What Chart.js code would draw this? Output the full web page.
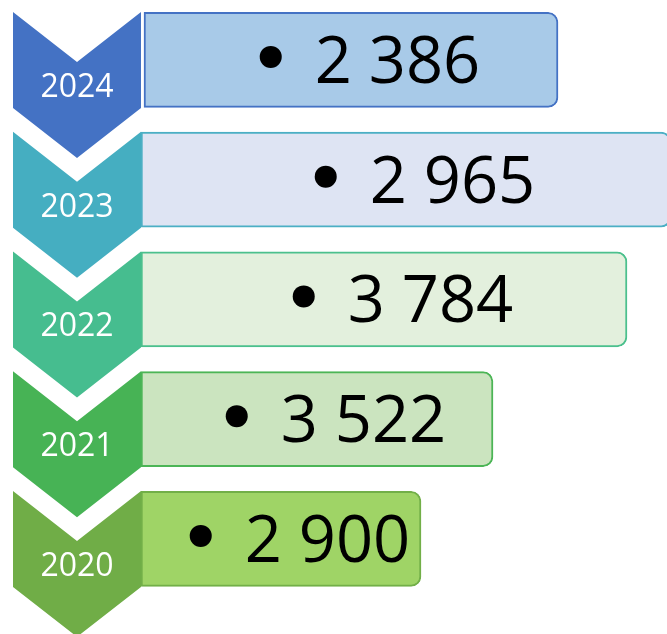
<!DOCTYPE html>
<html>
<head>
<meta charset="utf-8">
<script src="https://cdn.jsdelivr.net/npm/chart.js@4/dist/chart.umd.min.js"></script>
<style>
  html, body { margin: 0; padding: 0; background: #fff; }
  canvas { display: block; }
</style>
</head>
<body>
<canvas id="chart" width="667" height="634"></canvas>
<script>
// data
const years = ['2024', '2023', '2022', '2021', '2020'];
const counts = [2386, 2965, 3784, 3522, 2900];

// layout of the boxes (x units, the box widths do not follow the values in the source)
const boxStart = [144, 141, 141, 141, 141];
const boxEnd = [558, 671, 627, 493, 421];

const chevronColors = ['#4472C4', '#45AEC1', '#46BD8F', '#47B355', '#70AD47'];
const boxFills = ['#A8CAE8', '#DEE4F3', '#E3F0DD', '#CBE4BF', '#9FD466'];
const boxBorders = ['#4472C4', '#4BAFC4', '#4BC08D', '#4CB556', '#72AF48'];

const formatCount = v => String(v).replace(/\B(?=(\d{3})+(?!\d))/g, ' ');

// chevrons with the year, drawn on the left of each row
const chevronPlugin = {
  id: 'chevrons',
  beforeDatasetsDraw(chart) {
    const { ctx, scales: { x, y } } = chart;
    const left = x.getPixelForValue(13);
    const right = x.getPixelForValue(141);
    const mid = (left + right) / 2;
    ctx.save();
    years.forEach((year, i) => {
      const top = y.getPixelForValue(i) - 48;
      ctx.beginPath();
      ctx.moveTo(left, top);
      ctx.lineTo(mid, top + 50);
      ctx.lineTo(right, top);
      ctx.lineTo(right, top + 96);
      ctx.lineTo(mid, top + 146);
      ctx.lineTo(left, top + 96);
      ctx.closePath();
      ctx.fillStyle = chevronColors[i];
      ctx.fill();

      ctx.fillStyle = '#ffffff';
      ctx.font = '32px "Open Sans"';
      ctx.textAlign = 'center';
      ctx.textBaseline = 'alphabetic';
      ctx.fillText(year, mid, top + 85);
    });
    ctx.restore();
  }
};

// bullet + value inside each box
const valuePlugin = {
  id: 'values',
  afterDatasetsDraw(chart) {
    const { ctx } = chart;
    const meta = chart.getDatasetMeta(0);
    ctx.save();
    ctx.font = '65px "Open Sans"';
    ctx.textBaseline = 'alphabetic';
    ctx.textAlign = 'left';
    ctx.fillStyle = '#000000';
    meta.data.forEach((bar, i) => {
      const text = formatCount(counts[i]);
      const w = ctx.measureText(text).width;
      const groupW = 11 + 44 + w;
      const center = (bar.base + bar.x) / 2 + 19;
      const gx = center - groupW / 2;
      ctx.beginPath();
      ctx.arc(gx + 11, bar.y - 3, 11, 0, Math.PI * 2);
      ctx.fill();
      ctx.fillText(text, gx + 55, bar.y + 23);
    });
    ctx.restore();
  }
};

new Chart(document.getElementById('chart'), {
  type: 'bar',
  data: {
    labels: years,
    datasets: [{
      label: 'Počet',
      data: years.map((_, i) => [boxStart[i], boxEnd[i]]),
      backgroundColor: boxFills,
      borderColor: boxBorders,
      borderWidth: 2,
      borderSkipped: false,
      borderRadius: { topLeft: 0, bottomLeft: 0, topRight: 10, bottomRight: 10 },
      barThickness: 95
    }]
  },
  options: {
    indexAxis: 'y',
    responsive: false,
    animation: false,
    layout: { padding: { top: 0, bottom: 35.25, left: 0, right: 0 } },
    scales: {
      x: { type: 'linear', min: 0, max: 667, display: false },
      y: { display: false }
    },
    plugins: {
      legend: { display: false },
      tooltip: { enabled: false }
    }
  },
  plugins: [chevronPlugin, valuePlugin]
});
</script>
</body>
</html>
